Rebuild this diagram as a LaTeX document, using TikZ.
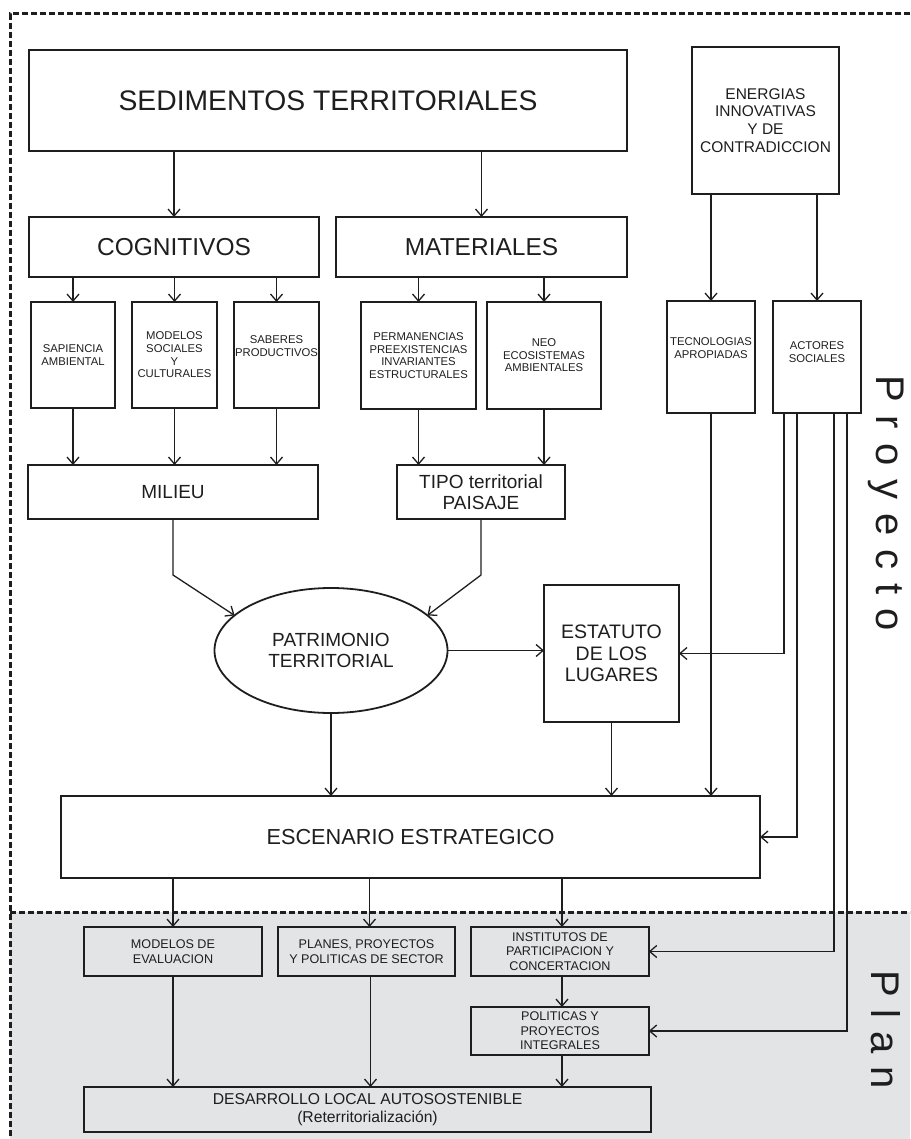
\documentclass[tikz,border=0pt]{standalone}
\usepackage{fontspec}
\setmainfont{Liberation Sans}
\usetikzlibrary{arrows.meta,calc,shapes.geometric}
\definecolor{ink}{RGB}{30,30,30}
\definecolor{plangrey}{RGB}{227,228,230}
\newcommand\fs[2]{\fontsize{#1}{#2}\selectfont}
\newcommand\lsA{\hspace{14pt}}
\newcommand\lsB{\hspace{13pt}}
\begin{document}
\begin{tikzpicture}[x=1pt,y=-1pt,
  every node/.style={inner sep=0pt, outer sep=0pt, text=ink},
  bxs/.style 2 args={draw=ink, line width=1.8pt, minimum width=#1, minimum height=#2, align=center},
  txt/.style={align=center},
  conn/.style={draw=ink, line width=1.3pt, -{Straight Barb[length=7pt,width=12pt]}},
  dsh/.style={draw=ink, line width=3pt, dash pattern=on 6pt off 3pt},
  small/.style={font=\fs{11.3}{12.6}},
  lower/.style={font=\fs{12.6}{14.7}}
]
\useasboundingbox (0,0) rectangle (910,1139);
\fill[plangrey] (10,912) rectangle (910,1139);
\draw[dsh] (910,14) -- (10,14) -- (10,1139);
\draw[dsh] (10,912) -- (910,912);

% top
\node[bxs={598pt}{101pt}, font=\fs{28.3}{34}] (sed) at (328,100.5) {SEDIMENTOS TERRITORIALES};
\node[bxs={147pt}{147pt}, font=\fs{15.5}{17.7}] (ene) at (765.5,120.5) {ENERGIAS\\INNOVATIVAS\\Y DE\\CONTRADICCION};
\node[bxs={290pt}{60pt}, font=\fs{24.5}{28}] (cog) at (174,247) {COGNITIVOS};
\node[bxs={291pt}{60pt}, font=\fs{24.5}{28}] (mat) at (481.5,247) {MATERIALES};

% small boxes
\node[bxs={84pt}{106pt}, small] (sap) at (73,355) {SAPIENCIA\\AMBIENTAL};
\node[bxs={85pt}{106pt}, small] (mod) at (174.5,355) {MODELOS\\SOCIALES\\Y\\CULTURALES};
\node[bxs={85pt}{106pt}] (sab) at (276.5,355) {};
\node[txt, small] (sabt) at ($(sab)+(0,-9)$) {SABERES\\PRODUCTIVOS};
\node[bxs={115pt}{107pt}, small] (perm) at (418.5,355.5) {PERMANENCIAS\\PREEXISTENCIAS\\INVARIANTES\\ESTRUCTURALES};
\node[bxs={114pt}{107pt}, small] (neo) at (544,355.5) {NEO\\ECOSISTEMAS\\AMBIENTALES};
\node[bxs={88pt}{112pt}] (tec) at (711,357) {};
\node[txt, small] (tect) at ($(tec)+(0,-9)$) {TECNOLOGIAS\\APROPIADAS};
\node[bxs={88pt}{112pt}] (act) at (817,357) {};
\node[txt, small] (actt) at ($(act)+(0,-5)$) {ACTORES\\SOCIALES};

% middle
\node[bxs={290pt}{54pt}, font=\fs{19}{21}] (mil) at (173,492) {MILIEU};
\node[bxs={168pt}{54pt}, font=\fs{19}{20.5}] (tipo) at (481,492) {TIPO territorial\\PAISAJE};
\node[draw=ink, line width=1.8pt, ellipse, minimum width=233pt, minimum height=125pt, align=center, font=\fs{19}{20.7}] (pat) at (331,650.5) {PATRIMONIO\\TERRITORIAL};
\node[bxs={135pt}{137pt}, font=\fs{19.5}{21.5}] (est) at (611.5,653.5) {ESTATUTO\\DE LOS\\LUGARES};
\node[bxs={699pt}{82pt}, font=\fs{21.7}{24}] (esc) at (410.5,837) {ESCENARIO ESTRATEGICO};

% plan
\node[bxs={178pt}{49pt}, lower] (meval) at (173,951.5) {MODELOS DE\\EVALUACION};
\node[bxs={177pt}{49pt}, lower] (plan) at (366.5,951.5) {PLANES, PROYECTOS\\Y POLITICAS DE SECTOR};
\node[bxs={177.5pt}{49pt}, font=\fs{12.6}{14.4}] (inst) at (560,951.5) {INSTITUTOS DE\\PARTICIPACION Y\\CONCERTACION};
\node[bxs={177.5pt}{48pt}, font=\fs{12.6}{14.4}] (pol) at (560,1031) {POLITICAS Y\\PROYECTOS\\INTEGRALES};
\node[bxs={567pt}{45pt}, font=\fs{15.7}{17.6}] (des) at (367.5,1109.5) {DESARROLLO LOCAL AUTOSOSTENIBLE\\(Reterritorialización)};

% side labels
\node[rotate=-90, anchor=base west, font=\fs{40}{44}] (proy) at (876,375) {P\lsA r\lsA o\lsA y\lsA e\lsA c\lsA t\lsA o};
\node[rotate=-90, anchor=base west, font=\fs{40}{44}] (plab) at (871,970) {P\lsB l\lsB a\lsB n};

% connectors
\draw[conn] (sed.south -| cog.north) -- (cog.north);
\draw[conn] (sed.south -| mat.north) -- (mat.north);
\draw[conn] (cog.south -| sap.north) -- (sap.north);
\draw[conn] (cog.south -| mod.north) -- (mod.north);
\draw[conn] (cog.south -| sab.north) -- (sab.north);
\draw[conn] (mat.south -| perm.north) -- (perm.north);
\draw[conn] (mat.south -| neo.north) -- (neo.north);
\draw[conn] (ene.south -| tec.north) -- (tec.north);
\draw[conn] (ene.south -| act.north) -- (act.north);
\draw[conn] (sap.south) -- (mil.north -| sap.south);
\draw[conn] (mod.south) -- (mil.north -| mod.south);
\draw[conn] (sab.south) -- (mil.north -| sab.south);
\draw[conn] (perm.south) -- (tipo.north -| perm.south);
\draw[conn] (neo.south) -- (tipo.north -| neo.south);
\draw[conn] (mil.south) -- ++(0,56) -- (pat.160);
\draw[conn] (tipo.south) -- ++(0,56) -- (pat.20);
\draw[conn] (pat.east) -- (est.west |- pat.east);
\draw[conn] (pat.south) -- (esc.north -| pat.south);
\draw[conn] (est.south) -- (esc.north -| est.south);
\draw[conn] (tec.south) -- (esc.north -| tec.south);
\draw[conn] ($(act.south west)+(11,0)$) |- (est.east);
\draw[conn] ($(act.south west)+(24,0)$) |- (esc.east);
\draw[conn] ($(act.south west)+(61,0)$) |- (inst.east);
\draw[conn] ($(act.south west)+(74,0)$) |- (pol.east);
\draw[conn] (esc.south -| meval.north) -- (meval.north);
\draw[conn] ($(esc.south -| plan.north)+(3,0)$) -- ($(plan.north)+(3,0)$);
\draw[conn] ($(esc.south -| inst.north)+(2,0)$) -- ($(inst.north)+(2,0)$);
\draw[conn] ($(inst.south)+(2,0)$) -- ($(pol.north)+(2,0)$);
\draw[conn] (meval.south) -- (des.north -| meval.south);
\draw[conn] ($(plan.south)+(4,0)$) -- ($(des.north -| plan.south)+(4,0)$);
\draw[conn] ($(pol.south)+(2,0)$) -- ($(des.north -| pol.south)+(2,0)$);
\end{tikzpicture}
\end{document}
